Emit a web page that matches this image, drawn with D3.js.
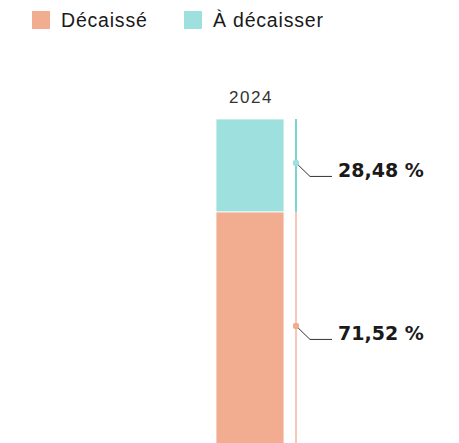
<!DOCTYPE html>
<html>
<head>
<meta charset="utf-8">
<script src="https://cdn.jsdelivr.net/npm/d3@7"></script>
<style>
  html, body { margin: 0; padding: 0; background: #fff; }
  svg { display: block; }
</style>
</head>
<body>
<svg id="chart" width="459" height="443"></svg>
<script>
// Budget execution for 2024: share already disbursed vs. still to disburse
const years = ["2024"];
const seriesNames = ["Décaissé", "À décaisser"];
const decaisse = [71.52];
const aDecaisser = [28.48];
const valueLabels = ["71,52 %", "28,48 %"];

const barColors = ["#f2ad91", "#9ee0dd"];
const lineColors = ["#f4a182", "#1fb7b5"];

const svg = d3.select("#chart");
const font = "'Liberation Sans', Arial, Helvetica, sans-serif";
const boldFont = "'DejaVu Sans', 'Liberation Sans', Arial, sans-serif";

// Legend
const legend = svg.append("g");
const legendX = [32, 184];
seriesNames.forEach((name, i) => {
  const g = legend.append("g").attr("transform", `translate(${legendX[i]},11)`);
  g.append("rect").attr("width", 18).attr("height", 18).attr("fill", barColors[i]);
  g.append("text").attr("x", 29).attr("y", 16)
    .attr("font-family", font).attr("font-size", 19.5)
    .attr("letter-spacing", 0.8).attr("fill", "#1a1a1a")
    .text(name);
});

// Scales
const x = d3.scaleBand().domain(years).range([216, 284]).padding(0);
const y = d3.scaleLinear().domain([0, 100]).range([445, 119]);

// Stacked data
const rows = years.map((yr, i) => ({ year: yr, "Décaissé": decaisse[i], "À décaisser": aDecaisser[i] }));
const stacked = d3.stack().keys(seriesNames)(rows);

// Column header
svg.append("text")
  .attr("x", x("2024") + x.bandwidth() / 2 + 1).attr("y", 103)
  .attr("text-anchor", "middle")
  .attr("font-family", font).attr("font-size", 17)
  .attr("letter-spacing", 1.5).attr("fill", "#333")
  .text(years[0]);

// Bars
stacked.forEach((layer, si) => {
  svg.append("g").selectAll("rect").data(layer).join("rect")
    .attr("x", d => x(d.data.year))
    .attr("width", x.bandwidth())
    .attr("y", d => y(d[1]))
    .attr("height", d => y(d[0]) - y(d[1]))
    .attr("fill", barColors[si])
    .attr("stroke", "#fff").attr("stroke-width", 0.8);
});

// Bracket lines, dots and value labels
const lineX = x("2024") + x.bandwidth() + 12;
stacked.forEach((layer, si) => {
  const d = layer[0];
  const y0 = y(d[0]), y1 = y(d[1]);
  svg.append("line")
    .attr("x1", lineX).attr("x2", lineX)
    .attr("y1", y1).attr("y2", y0)
    .attr("stroke", lineColors[si]).attr("stroke-width", 1.2);
  const my = (y0 + y1) / 2 - 2.5;
  svg.append("path")
    .attr("d", `M${lineX},${my} L${lineX + 14},${my + 13.5} L${lineX + 36},${my + 13.5}`)
    .attr("fill", "none").attr("stroke", "#333").attr("stroke-width", 1);
  svg.append("circle")
    .attr("cx", lineX).attr("cy", my).attr("r", 3.2)
    .attr("fill", barColors[si]);
  svg.append("text")
    .attr("x", lineX + 42).attr("y", my + 14)
    .attr("font-family", boldFont).attr("font-weight", "bold")
    .attr("font-size", 19).attr("fill", "#1a1a1a")
    .text(valueLabels[si]);
});
</script>
</body>
</html>
